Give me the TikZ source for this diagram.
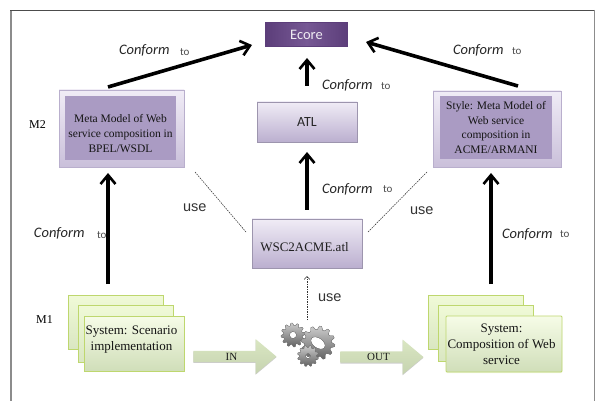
\documentclass[tikz,border=0pt]{standalone}
\usepackage{fontspec}
\setmainfont{Liberation Serif}
\setsansfont{Carlito}
\newfontfamily\arialf{Liberation Sans}
\usetikzlibrary{arrows.meta,shapes.arrows,shadows}
\definecolor{lilacin}{RGB}{170,155,195}
\definecolor{lilacout}{RGB}{240,236,246}
\definecolor{edgeg}{RGB}{185,175,205}
\definecolor{ecoreA}{RGB}{118,88,148}
\definecolor{ecoreB}{RGB}{92,62,122}
\definecolor{greenE}{RGB}{190,215,110}
\definecolor{greenL}{RGB}{240,250,215}
\definecolor{greenD}{RGB}{208,222,185}
\tikzset{
  x=1pt,y=-1pt,
  every node/.style={inner sep=0pt,outer sep=0pt},
  thick arrow/.style={line width=3.6pt,-{Straight Barb[length=9pt,width=15pt,line width=2.6pt]}},
  thin link/.style={dash pattern=on 1.5pt off 1pt,line width=0.55pt,draw=black!80},
  conf/.style={font=\sffamily\itshape\fontsize{14.5}{16}\selectfont,text=black!85},
  tolab/.style={font=\sffamily\fontsize{11}{12}\selectfont,text=black!70},
  uselab/.style={font=\arialf\fontsize{14.5}{16}\selectfont,text=black!80},
  level/.style={font=\fontsize{12}{14}\selectfont},
  metaouter/.style={draw=edgeg,line width=0.7pt,top color=lilacout,bottom color=lilacin!55!lilacout,drop shadow={shadow xshift=0pt,shadow yshift=-1.2pt,opacity=.35,fill=black}},
  metainner/.style={fill=lilacin},
  metatext/.style={align=center,text=black!92},
  procbox/.style={draw=edgeg!85!black,line width=0.7pt,top color=lilacout,bottom color=lilacin!80!white,drop shadow={shadow xshift=0pt,shadow yshift=-1.2pt,opacity=.35,fill=black},align=center},
  sheet/.style={draw=greenE,line width=0.7pt,top color=greenL,bottom color=greenD!70!greenL},
  sheetf/.style={draw=greenE,line width=0.9pt,top color=greenL!60!white,bottom color=greenD,drop shadow={shadow xshift=0pt,shadow yshift=-1pt,opacity=.2,fill=greenE}},
  sheettext/.style={align=center,font=\fontsize{13}{16}\selectfont,text=black!92},
  flow/.style={shape=single arrow,single arrow head extend=8pt,single arrow tip angle=80,minimum height=83pt,minimum width=35pt,top color=greenL!30!greenD,bottom color=greenD!95!black,font=\fontsize{11}{13}\selectfont,text=black!90,drop shadow={shadow xshift=0pt,shadow yshift=-.8pt,opacity=.2,fill=black}}
}
\newcommand{\gearshape}[7]{% x y rOut rIn holeX holeY rot
  \begin{scope}[shift={(#1,#2)},rotate=#7]
  \fill[even odd rule,top color=black!20,bottom color=black!62,draw=black!50,line width=0.3pt]
   plot[samples at={0,...,47},smooth cycle,tension=0.25] ({360/48*\x}:{mod(\x,4)<2 ? #3 : #4}) (0,0) ellipse[x radius=#5,y radius=#6];
  \end{scope}}
\begin{document}
\begin{tikzpicture}
\useasboundingbox (0,0) rectangle (595,401);
\fill[white] (0,0) rectangle (595,401);
\draw[black!45,line width=1.8pt] (11,401) -- (11,10);
\draw[black!70,line width=0.9pt] (10,10) -- (594,10);
\draw[black!45,line width=0.8pt] (594,10) -- (594,401);
% Ecore
\node[draw=ecoreB,line width=1pt,left color=ecoreB,right color=ecoreB,middle color=ecoreA,minimum width=82pt,minimum height=24pt,font=\sffamily\fontsize{14.5}{16}\selectfont,text=white!88!ecoreA] (ecore) at (306.5,34.5) {Ecore};
% ATL
\node[procbox,minimum width=100pt,minimum height=40pt,font=\sffamily\fontsize{14}{16}\selectfont,text=black!85] (atl) at (307,122) {ATL};
% WSC
\node[procbox,minimum width=110pt,minimum height=49pt] (wsc) at (307,243.5) {};
\node[font=\fontsize{13}{15}\selectfont,text=black!88] (wsct) at (304.5,247) {WSC2ACME.atl};
% M2 left
\node[metaouter,minimum width=125pt,minimum height=77pt] (mml) at (121.5,128.5) {};
\node[metainner,minimum width=111pt,minimum height=64pt] (mmli) at (120.5,128) {};
\node[metatext,font=\fontsize{11.5}{15}\selectfont] (mmlt) at (120.5,134) {Meta Model of Web\\service composition in\\BPEL/WSDL};
% M2 right
\node[metaouter,minimum width=128pt,minimum height=76pt] (mmr) at (497,129) {};
\node[metainner,minimum width=112pt,minimum height=63pt] (mmri) at (496,127.5) {};
\node[metatext,font=\fontsize{11.5}{14.5}\selectfont] (mmrt) at (496,127.5) {Style: Meta Model of\\Web service\\composition in\\ACME/ARMANI};
% level labels
\node[level] (m2) at (37.5,125) {M2};
\node[level] (m1) at (44.5,320) {M1};
% M1 left
\node[sheet,minimum width=95pt,minimum height=54pt] (s1a) at (115.5,322) {};
\node[sheet,minimum width=95pt,minimum height=57pt] (s1b) at (125.5,333.5) {};
\node[sheetf,minimum width=100pt,minimum height=55pt] (s1c) at (134,343.5) {};
\node[sheettext] (s1t) at (131.5,340) {System: Scenario\\implementation};
% M1 right
\node[sheet,minimum width=95pt,minimum height=54pt] (s2a) at (475.5,322) {};
\node[sheet,minimum width=95pt,minimum height=56pt] (s2b) at (485.5,333) {};
\node[sheetf,rounded corners=1pt,minimum width=116pt,minimum height=56pt] (s2c) at (504,344) {};
\node[sheettext] (s2t) at (501.5,344) {System:\\Composition of Web\\service\hspace{15pt}};
% gears
\gearshape{293}{335}{12}{9.5}{3.5}{3.5}{10}
\gearshape{318}{343}{17}{13.5}{8}{5}{-35}
\gearshape{308}{356}{10.5}{8.5}{2.5}{2.5}{20}
% flow arrows
\node[flow] (in) at (231.5,356.5) {IN\hspace{9pt}};
\node[flow] (out) at (378.5,357) {OUT\hspace{9pt}};
% thick arrows
\coordinate (l1) at (108,87);
\coordinate (r1) at (518,86);
\draw[thick arrow] (l1) -- (252,45);
\draw[thick arrow] (r1) -- (366,42);
\draw[thick arrow] (atl.north) ++(0,-16) -- (307,58);
\draw[thick arrow] (wsc.north) ++(0,-9) -- (307,152);
\coordinate (la) at (108,284);
\coordinate (lb) at (108,173);
\draw[thick arrow] (la) -- (lb);
\coordinate (ra) at (491,284);
\coordinate (rb) at (491,173);
\draw[thick arrow] (ra) -- (rb);
% dashed
\coordinate (dl) at (195,172);
\draw[thin link] (dl) -- (246,232);
\coordinate (dr) at (427,172);
\draw[thin link] (dr) -- (368,232);
\coordinate (ug) at (307,320);
\draw[thin link,-{Straight Barb[length=3pt,width=5.5pt]}] (ug) -- (307,276);
% labels
\node[conf,anchor=west] (c1) at (119,50) {Conform};
\node[tolab,anchor=west] (t1) at (180,52) {to};
\node[conf,anchor=west] (c2) at (453,50) {Conform};
\node[tolab,anchor=west] (t2) at (512,51) {to};
\node[conf,anchor=west] (c3) at (322,85) {Conform};
\node[tolab,anchor=west] (t3) at (381,86) {to};
\node[conf,anchor=west] (c4) at (322,189) {Conform};
\node[tolab,anchor=west] (t4) at (383,189) {to};
\node[conf,anchor=west] (c5) at (34,233) {Conform};
\node[tolab,anchor=west] (t5) at (97,235) {to};
\node[conf,anchor=west] (c6) at (502,234) {Conform};
\node[tolab,anchor=west] (t6) at (560,234) {to};
\node[uselab,anchor=west] (u1) at (183,208) {use};
\node[uselab,anchor=west] (u2) at (410,211) {use};
\node[uselab,anchor=west] (u3) at (318,298) {use};
\end{tikzpicture}
\end{document}
